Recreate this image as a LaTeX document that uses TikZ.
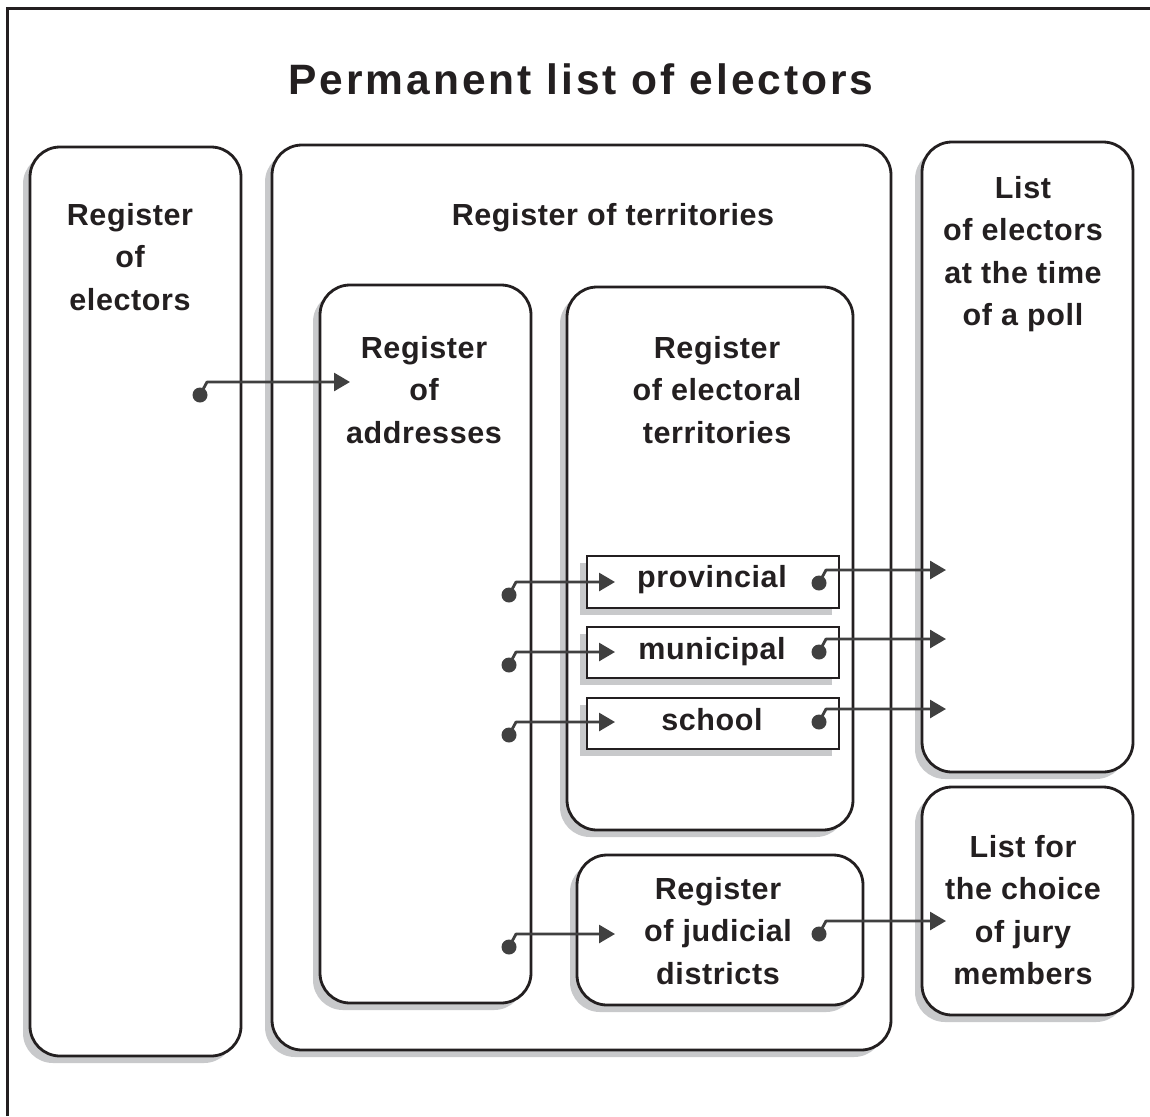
\documentclass[tikz,border=0pt]{standalone}
\usepackage{fontspec}
\setmainfont{Liberation Sans}
\newfontfamily\diagfont{Liberation Sans}[LetterSpace=2]
\newfontfamily\headfont{Liberation Sans}[LetterSpace=7]
\usetikzlibrary{arrows.meta,shadows}
\definecolor{ink}{HTML}{231F20}
\definecolor{wire}{HTML}{404040}
\definecolor{shade}{HTML}{C8C9CB}

\tikzset{
  panel/.style={draw=ink, line width=2.8pt, fill=white, rounded corners=30pt,
    inner sep=0pt, outer sep=0pt,
    general shadow={fill=shade, shadow xshift=-7pt, shadow yshift=-7pt}},
  tag/.style={panel, rounded corners=0pt},
  % multi-line labels are anchored at the baseline of their last line
  txt/.style={font=\diagfont\bfseries\fontsize{30.5}{42.5}\selectfont,
    align=center, anchor=base, inner sep=0pt, text=ink},
  dotnode/.style={circle, fill=wire, minimum size=15pt, inner sep=0pt},
  conn/.style={draw=wire, line width=2.8pt, line join=round,
    -{Triangle[length=16pt,width=18pt]}},
}

\begin{document}
\begin{tikzpicture}[x=1pt, y=-1pt]
\useasboundingbox (0,0) rectangle (1150,1116);

% page frame (open to the right and bottom)
\draw[ink, line width=2.5pt] (7.5,1116) -- (7.5,8.5) -- (1150,8.5);

% title
\node[font=\headfont\bfseries\fontsize{42.5}{50}\selectfont, anchor=base,
  inner sep=0pt, text=ink] (title) at (581,94) {Permanent list of electors};

% outer registers and lists
\node[panel, minimum width=211pt, minimum height=909pt] (elec) at (135.5,601.5) {};
\node[panel, minimum width=619pt, minimum height=905pt] (terr) at (581.5,597.5) {};
\node[panel, minimum width=211pt, minimum height=630pt] (poll) at (1027.5,457) {};
\node[panel, minimum width=211pt, minimum height=228pt] (jury) at (1027.5,901) {};

% registers inside the register of territories
\node[panel, minimum width=211pt, minimum height=718pt] (addr) at (425.5,644) {};
\node[panel, minimum width=286pt, minimum height=543pt] (elect) at (710,558.5) {};
\node[panel, minimum width=286pt, minimum height=150pt] (jud) at (720,930) {};

% electoral territory kinds
\node[tag, minimum width=252pt, minimum height=52pt] (prov) at (713,582) {};
\node[tag, minimum width=252pt, minimum height=51pt] (muni) at (713,652.5) {};
\node[tag, minimum width=252pt, minimum height=51pt] (school) at (713,723.5) {};

% labels
\node[txt] (elecT) at (130,310) {Register\\of\\electors};
\node[txt] (terrT) at (613,225) {Register of territories};
\node[txt] (pollT) at (1023,325.5) {List\\of electors\\at the time\\of a poll};
\node[txt] (juryT) at (1023,984.5) {List for\\the choice\\of jury\\members};
\node[txt] (addrT) at (424,443) {Register\\of\\addresses};
\node[txt] (electT) at (717,443) {Register\\of electoral\\territories};
\node[txt] (judT) at (718,984) {Register\\of judicial\\districts};
\node[txt] (provT) at (712,587) {provincial};
\node[txt] (muniT) at (712,659) {municipal};
\node[txt] (schoolT) at (712,730) {school};

% connector ends
\node[dotnode] (d1) at (200,395) {};
\node[dotnode] (d2) at (509,595) {};
\node[dotnode] (d3) at (509,665) {};
\node[dotnode] (d4) at (509,735) {};
\node[dotnode] (d5) at (819,583) {};
\node[dotnode] (d6) at (819,652) {};
\node[dotnode] (d7) at (819,722) {};
\node[dotnode] (d8) at (509,947) {};
\node[dotnode] (d9) at (819,934) {};
\coordinate (t1) at (350,382);
\coordinate (t2) at (615,582);
\coordinate (t3) at (615,652);
\coordinate (t4) at (615,722);
\coordinate (t5) at (946,570);
\coordinate (t6) at (946,639);
\coordinate (t7) at (946,709);
\coordinate (t8) at (615,934);
\coordinate (t9) at (946,921);

% connectors
\foreach \i in {1,...,9}{
  \draw[conn] (d\i.center) -- ++(7,-13) -- (t\i);
}
\end{tikzpicture}
\end{document}
